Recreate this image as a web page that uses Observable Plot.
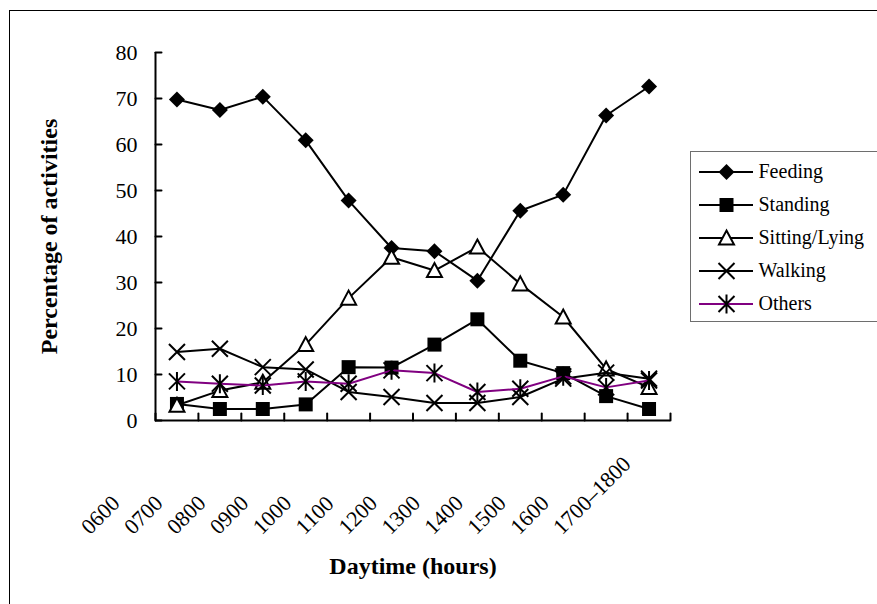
<!DOCTYPE html>
<html>
<head>
<meta charset="utf-8">
<script src="https://cdn.jsdelivr.net/npm/d3@7"></script>
<script src="https://cdn.jsdelivr.net/npm/@observablehq/plot@0.6"></script>
<style>
  body { margin: 0; background: white; }
  #wrap { position: relative; width: 877px; height: 604px; overflow: hidden; background: white;
          font-family: "Liberation Serif", "Times New Roman", serif; }
  #wrap svg, #wrap svg text, #wrap svg g { font-family: "Liberation Serif", "Times New Roman", serif !important; }
  #frame { position: absolute; left: 9px; top: 10px; width: 1000px; height: 1000px; border: 1px solid #000; pointer-events: none; }
  #chart { position: absolute; left: 0; top: 0; }
  #legend { position: absolute; left: 690px; top: 151px; width: 300px; height: 169px; border: 1px solid #6e6e6e; background: white; }
</style>
</head>
<body>
<div id="wrap">
  <div id="frame"></div>
  <div id="chart"></div>
  <div id="legend"></div>
</div>
<script>
// ---- data ----
const categories = ["0600", "0700", "0800", "0900", "1000", "1100", "1200", "1300", "1400", "1500", "1600", "1700\u20131800"];
const feeding  = [69.8, 67.5, 70.4, 60.9, 47.8, 37.5, 36.8, 30.4, 45.6, 49.1, 66.3, 72.6];
const standing = [3.6, 2.5, 2.5, 3.5, 11.6, 11.5, 16.5, 22.0, 13.0, 10.3, 5.3, 2.5];
const sitting  = [3.3, 6.5, 8.3, 16.5, 26.6, 35.5, 32.6, 37.7, 29.7, 22.5, 11.2, 7.2];
const walking  = [14.9, 15.6, 11.6, 11.1, 6.2, 5.1, 3.8, 3.8, 5.1, 9.1, 10.4, 9.1];
const others   = [8.5, 8.0, 7.6, 8.5, 8.0, 10.9, 10.3, 6.2, 6.9, 9.6, 7.2, 8.7];
const seriesNames = ["Feeding", "Standing", "Sitting/Lying", "Walking", "Others"];
const yTicks = [0, 10, 20, 30, 40, 50, 60, 70, 80];
const xTitle = "Daytime (hours)";
const yTitle = "Percentage of activities";

const FONT = "'Liberation Serif', 'Times New Roman', serif";

// ---- custom Excel-like marker symbols ----
const K = size => Math.sqrt(size / Math.PI) / 8;
const symDiamond = {draw(c, s) { const h = 8 * K(s); c.moveTo(0, -h); c.lineTo(h, 0); c.lineTo(0, h); c.lineTo(-h, 0); c.closePath(); }};
const symSquare = {draw(c, s) { const h = 7 * K(s); c.rect(-h, -h, 2 * h, 2 * h); }};
const symTriangle = {draw(c, s) { const k = K(s); c.moveTo(0, -7.5 * k); c.lineTo(7.5 * k, 6.5 * k); c.lineTo(-7.5 * k, 6.5 * k); c.closePath(); }};
const symTimes = {draw(c, s) { const h = 8 * K(s); c.moveTo(-h, -h); c.lineTo(h, h); c.moveTo(-h, h); c.lineTo(h, -h); }};
const symAsterisk = {draw(c, s) { const k = K(s), h = 8 * k; c.moveTo(-h, -h); c.lineTo(h, h); c.moveTo(-h, h); c.lineTo(h, -h); c.moveTo(0, -9.5 * k); c.lineTo(0, 9.5 * k); }};

const series = [
  {name: seriesNames[0], values: feeding,  line: "#000", symbol: symDiamond,  fill: "#000", stroke: "none", sw: 0},
  {name: seriesNames[1], values: standing, line: "#000", symbol: symSquare,   fill: "#000", stroke: "none", sw: 0},
  {name: seriesNames[2], values: sitting,  line: "#000", symbol: symTriangle, fill: "#fff", stroke: "#000", sw: 2},
  {name: seriesNames[3], values: walking,  line: "#000", symbol: symTimes,    fill: "none", stroke: "#000", sw: 2},
  {name: seriesNames[4], values: others,   line: "#800080", symbol: symAsterisk, fill: "none", stroke: "#000", sw: 2}
];

const idx = categories.map((_, i) => i);
const boundaries = d3.range(categories.length + 1).map(i => i - 0.5);
const tickShape = {draw(c, l) { c.moveTo(0, 0); c.lineTo(0, -l); }};

const seriesMarks = series.flatMap(s => [
  Plot.line(idx, {x: i => i, y: i => s.values[i], stroke: s.line, strokeWidth: 2}),
  Plot.dot(idx, {x: i => i, y: i => s.values[i], symbol: s.symbol, r: 8, fill: s.fill, stroke: s.stroke, strokeWidth: s.sw})
]);

const chart = Plot.plot({
  width: 877,
  height: 604,
  marginLeft: 155,
  marginRight: 207,
  marginTop: 52,
  marginBottom: 184,
  style: {background: "transparent", fontFamily: FONT, fontSize: "20px", color: "#000"},
  x: {domain: [-0.5, categories.length - 0.5], axis: null},
  y: {domain: [0, 80], axis: null},
  marks: [
    Plot.axisY({ticks: yTicks, tickSize: 0, tickPadding: 18, fontSize: 22, fontFamily: FONT, tickFormat: d => String(d)}),
    Plot.vector(yTicks, {x: -0.5, y: d => d, rotate: 90, length: 6, anchor: "start", shape: tickShape, stroke: "#000", strokeWidth: 2}),
    Plot.vector(boundaries, {x: d => d, y: 0, rotate: 0, length: 7, anchor: "start", shape: tickShape, stroke: "#000", strokeWidth: 2}),
    Plot.ruleX([-0.5], {stroke: "#000", strokeWidth: 2}),
    Plot.ruleY([0], {stroke: "#000", strokeWidth: 2}),
    Plot.text(idx, {x: i => i, text: i => categories[i], frameAnchor: "bottom", rotate: -45, textAnchor: "start", lineAnchor: "bottom", dx: -87, dy: 115, fontSize: 22, fontFamily: FONT}),
    Plot.text([xTitle], {text: d => d, frameAnchor: "bottom", textAnchor: "middle", dy: 153, lineAnchor: "bottom", fontWeight: "bold", fontSize: 24, fontFamily: FONT}),
    Plot.text([yTitle], {text: d => d, frameAnchor: "left", textAnchor: "middle", rotate: -90, dx: -99, lineAnchor: "bottom", fontWeight: "bold", fontSize: 24, fontFamily: FONT}),
    ...seriesMarks
  ]
});
document.getElementById("chart").appendChild(chart);

// ---- legend ----
const legendMarks = series.flatMap(s => [
  Plot.ruleY([s.name], {y: d => d, x1: 8, x2: 62, stroke: s.line, strokeWidth: 2}),
  Plot.dot([s.name], {x: 35, y: d => d, symbol: s.symbol, r: 8, fill: s.fill, stroke: s.stroke, strokeWidth: s.sw}),
  Plot.text([s.name], {x: 67, y: d => d, text: d => d, textAnchor: "start", fontSize: 20, fontFamily: FONT})
]);
const legend = Plot.plot({
  width: 186,
  height: 169,
  margin: 0,
  style: {background: "transparent", fontFamily: FONT, fontSize: "20px", color: "#000"},
  x: {domain: [0, 186], axis: null},
  y: {type: "band", domain: seriesNames, range: [1, 170], padding: 0, axis: null},
  marks: legendMarks
});
document.getElementById("legend").appendChild(legend);
</script>
</body>
</html>
